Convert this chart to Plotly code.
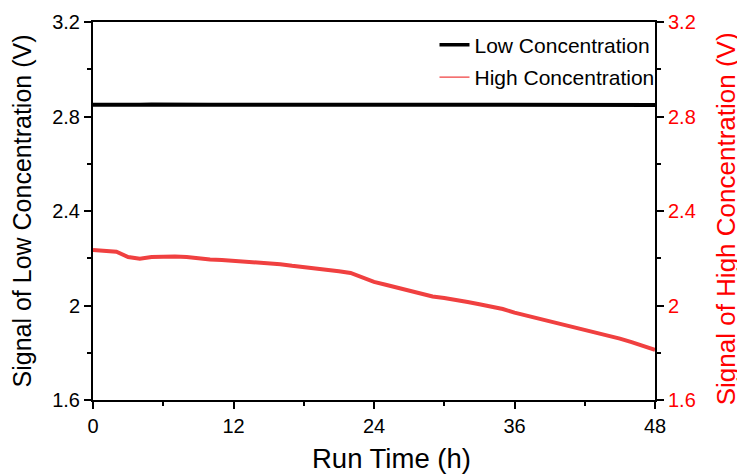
import plotly.graph_objects as go

# Run time (h)
time_h = list(range(0, 49))

# Low concentration signal (V), left axis
low_signal = [2.850, 2.849, 2.850, 2.850, 2.850, 2.851, 2.850, 2.850, 2.850, 2.851,
              2.850, 2.850, 2.850, 2.851, 2.850, 2.850, 2.850, 2.850, 2.851, 2.850,
              2.850, 2.850, 2.850, 2.851, 2.851, 2.851, 2.850, 2.850, 2.850, 2.850,
              2.850, 2.850, 2.850, 2.850, 2.849, 2.849, 2.849, 2.848, 2.848, 2.847,
              2.847, 2.848, 2.848, 2.849, 2.849, 2.849, 2.849, 2.849, 2.849]

# High concentration signal (V), right axis
high_signal = [2.235, 2.232, 2.228, 2.205, 2.198, 2.205, 2.207, 2.207, 2.205, 2.198,
               2.195, 2.193, 2.190, 2.188, 2.185, 2.180, 2.175, 2.168, 2.163, 2.158,
               2.152, 2.145, 2.138, 2.120, 2.100, 2.088, 2.075, 2.062, 2.048, 2.038,
               2.032, 2.025, 2.015, 2.005, 1.995, 1.985, 1.970, 1.958, 1.945, 1.932,
               1.920, 1.908, 1.896, 1.885, 1.872, 1.860, 1.845, 1.830, 1.812]

x_ticks = [0, 12, 24, 36, 48]
y_ticks = [1.6, 2.0, 2.4, 2.8, 3.2]
y_tick_text = ["1.6", "2", "2.4", "2.8", "3.2"]

FONT = "Liberation Sans, Arial, sans-serif"
RED = "#ff0000"
LINE_RED = "#f04040"

fig = go.Figure()
fig.add_trace(go.Scatter(x=time_h, y=low_signal, mode="lines", name="Low Concentration",
                         line=dict(color="black", width=4), yaxis="y",
                         showlegend=False))
fig.add_trace(go.Scatter(x=time_h, y=high_signal, mode="lines", name="High Concentration",
                         line=dict(color=LINE_RED, width=4), yaxis="y2",
                         showlegend=False))
# legend entries (no data)
fig.add_trace(go.Scatter(x=[None], y=[None], mode="lines", name="Low Concentration",
                         line=dict(color="black", width=3.5), legendgroup="a"))
fig.add_trace(go.Scatter(x=[None], y=[None], mode="lines", name="High Concentration",
                         line=dict(color=LINE_RED, width=1.2), legendgroup="b", yaxis="y2"))

fig.update_layout(
    width=737, height=467,
    margin=dict(l=85, r=90, t=14, b=75, autoexpand=False),
    paper_bgcolor="white", plot_bgcolor="white",
    font=dict(family=FONT, size=20, color="black"),
    showlegend=True,
    legend=dict(x=1.008, y=0.993, xanchor="right", yanchor="top", bgcolor="rgba(0,0,0,0)",
                font=dict(size=21, color="black"),
                tracegroupgap=2, borderwidth=0),
    xaxis=dict(range=[0, 48], tickvals=x_ticks, showgrid=False, zeroline=False,
               showline=True, linecolor="black", linewidth=2, mirror=True,
               ticks="outside", ticklen=7, tickwidth=1.5, tickcolor="black",
               minor=dict(ticks="outside", dtick=6, ticklen=4, tickwidth=1.5, tickcolor="black"),
               tickfont=dict(size=20), automargin=False),
    yaxis=dict(range=[1.6, 3.2], tickvals=y_ticks, ticktext=y_tick_text,
               showgrid=False, zeroline=False,
               showline=True, linecolor="black", linewidth=2,
               ticks="outside", ticklen=7, tickwidth=1.5, tickcolor="black",
               minor=dict(ticks="outside", dtick=0.2, ticklen=4, tickwidth=1.5, tickcolor="black"),
               title=dict(text="Signal of Low Concentration (V)", font=dict(size=25), standoff=18),
               tickfont=dict(size=20), automargin=False),
    yaxis2=dict(range=[1.6, 3.2], tickvals=y_ticks, ticktext=y_tick_text,
                overlaying="y", side="right", showgrid=False, zeroline=False,
                showline=True, linecolor="black", linewidth=2,
                ticks="outside", ticklen=7, tickwidth=1.5, tickcolor="black",
                minor=dict(ticks="outside", dtick=0.2, ticklen=4, tickwidth=1.5, tickcolor="black"),
                tickfont=dict(size=20, color=RED), automargin=False),
    annotations=[
        dict(text="Run Time (h)", xref="paper", yref="paper", x=0.532, y=-0.155,
             xanchor="center", yanchor="middle", showarrow=False,
             font=dict(size=27.5, color="black", family=FONT)),
        dict(text="Signal of High Concentration (V)", xref="paper", yref="paper",
             x=1.127, y=0.479, xanchor="center", yanchor="middle", showarrow=False,
             textangle=-90, font=dict(size=26, color=RED, family=FONT)),
    ],
)

fig.write_html("out.html")
